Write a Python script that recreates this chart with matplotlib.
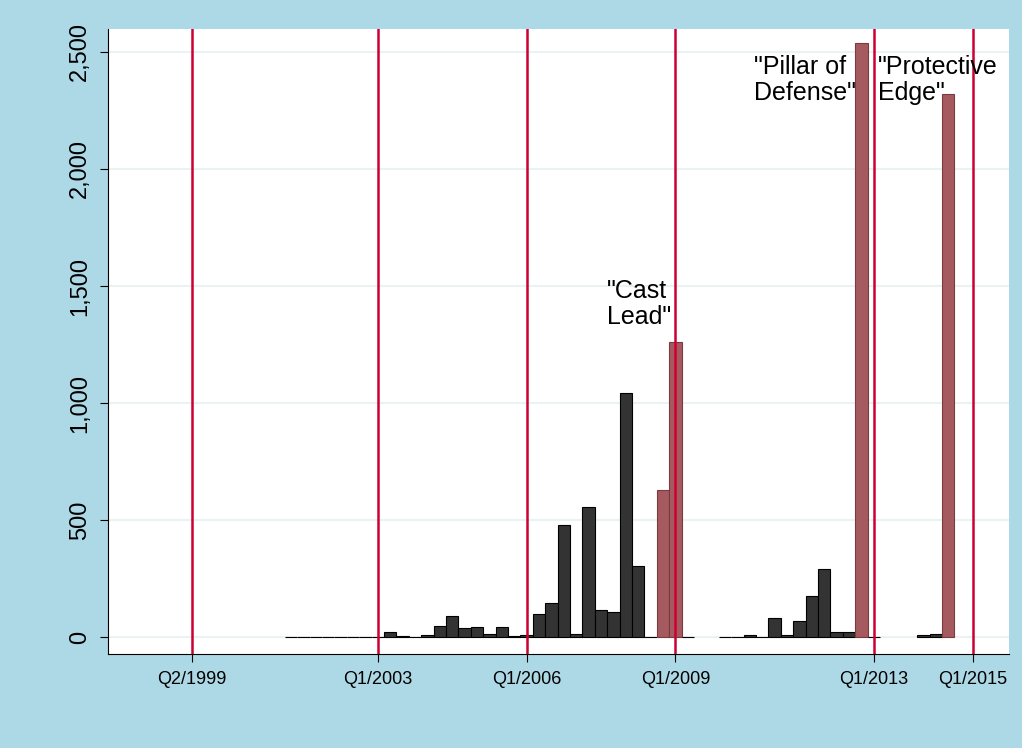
import numpy as np
import matplotlib.pyplot as plt

BG = "#ADD8E6"
DARK = "#333333"
MAROON = "#A55A5F"
RED = "#CC0033"

# quarter index: 0 = Q2/2001
nan = np.nan
values = [0, 0, 0, 0, 0, 0, 0, 2, 24, 6, 2, 8, 48, 91, 38, 44, 13, 44, 4, 11,
          97, 144, 477, 13, 554, 115, 107, 1041, 302, 0, 627, 1260,
          0, nan, nan, 0, 1, 8, 2, 81, 8, 70, 174, 293, 24, 20, 2540, 2,
          nan, nan, nan, 8, 13, 2320]
operations = {30, 31, 46, 53}  # Q4/2008, Q1/2009, Q4/2012, Q3/2014

tick_pos = [-8, 7, 19, 31, 47, 55]
tick_labels = ["Q2/1999", "Q1/2003", "Q1/2006", "Q1/2009", "Q1/2013", "Q1/2015"]

plt.rcParams["font.family"] = ["Liberation Sans", "DejaVu Sans"]

fig = plt.figure(figsize=(10.22, 7.48), dpi=100, facecolor=BG)
ax = fig.add_axes([108 / 1022, 1 - 654 / 748, (1009 - 108) / 1022, (654 - 29) / 748])
ax.set_facecolor("white")

x = np.arange(len(values))
v = np.array(values, dtype=float)
ok = ~np.isnan(v)
cols = [MAROON if i in operations else DARK for i in x]
edges = ["#7A3B40" if i in operations else "black" for i in x]
ax.bar(x[ok], v[ok], width=1.0, color=np.array(cols)[ok], edgecolor=np.array(edges)[ok],
       linewidth=0.8, zorder=2)

for p in tick_pos:
    ax.axvline(p, color=RED, lw=1.8, zorder=3)

ax.set_xlim(-14.76, 57.9)
ax.set_ylim(-72, 2598)
ax.set_yticks([0, 500, 1000, 1500, 2000, 2500])
ax.set_yticklabels(["0", "500", "1,000", "1,500", "2,000", "2,500"], rotation=90, va="center")
ax.set_xticks(tick_pos)
ax.set_xticklabels(tick_labels)
ax.tick_params(axis="y", labelsize=17, length=6, pad=6)
ax.tick_params(axis="x", labelsize=13, length=6, pad=6)
ax.grid(axis="y", color="#EAF2F3", lw=1.5, zorder=0)
ax.set_axisbelow(True)
for s in ["top", "right"]:
    ax.spines[s].set_visible(False)

ax.text(25.5, 1315, '"Cast\nLead"', fontsize=18, ha="left", va="bottom", linespacing=1.1)
ax.text(45.6, 2275, '"Pillar of\nDefense"', fontsize=18, ha="right", va="bottom",
        multialignment="left", linespacing=1.1)
ax.text(47.3, 2275, '"Protective\nEdge"', fontsize=18, ha="left", va="bottom", linespacing=1.1)

fig.savefig("out.png", dpi=100, facecolor=BG)
